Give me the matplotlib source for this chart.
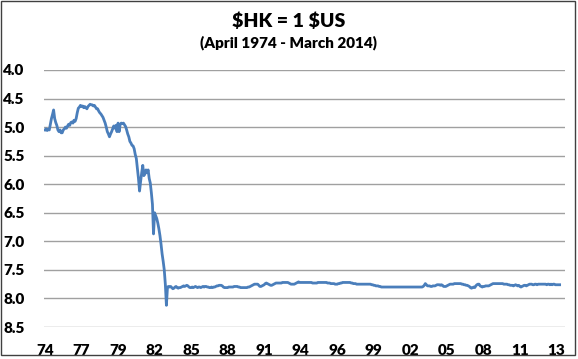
import numpy as np
import matplotlib
matplotlib.use('Agg')
import matplotlib.pyplot as plt
from matplotlib.patches import Rectangle

# monthly HKD per USD, April 1974 - March 2014
start_year, start_month = 1974, 4
rates = [
    # 1974 (Apr-Dec)
    5.05, 5.03, 5.06, 5.04, 5.05, 4.95, 4.85, 4.78, 4.70,
    # 1975
    4.85, 4.92, 4.97, 5.05, 5.08, 5.05, 5.10, 5.10, 5.05, 5.03, 5.00, 5.02,
    # 1976
    4.98, 4.95, 4.97, 4.92, 4.91, 4.93, 4.88, 4.90, 4.85, 4.75, 4.67, 4.65,
    # 1977
    4.62, 4.64, 4.63, 4.66, 4.64, 4.66, 4.68, 4.64, 4.62, 4.60, 4.61, 4.61,
    # 1978
    4.63, 4.62, 4.65, 4.68, 4.68, 4.72, 4.75, 4.77, 4.80, 4.83, 4.88, 4.93,
    # 1979
    5.00, 5.08, 5.12, 5.17, 5.12, 5.08, 5.03, 4.98, 5.02, 4.97, 5.08, 4.93,
    # 1980
    5.08, 4.95, 4.93, 4.94, 4.93, 4.96, 4.99, 5.05, 5.12, 5.17, 5.25, 5.28,
    # 1981
    5.32, 5.33, 5.38, 5.48, 5.55, 5.72, 5.90, 6.12, 5.95, 5.80, 5.67, 5.85,
    # 1982
    5.82, 5.75, 5.80, 5.75, 5.90, 5.98, 6.15, 6.35, 6.87, 6.50, 6.55, 6.60,
    # 1983
    6.68, 6.78, 6.90, 7.05, 7.22, 7.35, 7.50, 7.75, 8.12, 7.80, 7.79, 7.80,
    # 1984
    7.79, 7.81, 7.83, 7.82, 7.80, 7.79, 7.81, 7.82, 7.81, 7.81, 7.80, 7.79,
    # 1985
    7.78, 7.79, 7.78, 7.77, 7.78, 7.80, 7.81, 7.81, 7.80, 7.81, 7.80, 7.79,
    # 1986
    7.80, 7.81, 7.80, 7.80, 7.81, 7.80, 7.79, 7.80, 7.79, 7.79, 7.80, 7.80,
    # 1987
    7.81, 7.81, 7.80, 7.81, 7.80, 7.80, 7.79, 7.78, 7.78, 7.77, 7.77, 7.77,
    # 1988
    7.78, 7.80, 7.81, 7.81, 7.81, 7.81, 7.80, 7.80, 7.80, 7.80, 7.80, 7.79,
    # 1989
    7.79, 7.79, 7.79, 7.80, 7.80, 7.81, 7.81, 7.81, 7.81, 7.81, 7.81, 7.81,
    # 1990
    7.80, 7.80, 7.79, 7.78, 7.77, 7.76, 7.75, 7.75, 7.75, 7.75, 7.77, 7.79,
    # 1991
    7.79, 7.78, 7.77, 7.76, 7.74, 7.73, 7.74, 7.75, 7.76, 7.77, 7.77, 7.76,
    # 1992
    7.75, 7.74, 7.73, 7.73, 7.73, 7.73, 7.73, 7.73, 7.72, 7.72, 7.72, 7.72,
    # 1993
    7.72, 7.72, 7.73, 7.74, 7.75, 7.75, 7.75, 7.75, 7.74, 7.73, 7.72, 7.71,
    # 1994
    7.72, 7.72, 7.72, 7.72, 7.72, 7.72, 7.72, 7.72, 7.72, 7.72, 7.72, 7.72,
    # 1995
    7.73, 7.73, 7.73, 7.73, 7.73, 7.72, 7.72, 7.72, 7.72, 7.72, 7.72, 7.72,
    # 1996
    7.72, 7.72, 7.73, 7.73, 7.73, 7.74, 7.74, 7.74, 7.74, 7.75, 7.75, 7.75,
    # 1997
    7.74, 7.74, 7.73, 7.73, 7.72, 7.72, 7.72, 7.72, 7.72, 7.72, 7.72, 7.72,
    # 1998
    7.73, 7.73, 7.74, 7.74, 7.74, 7.75, 7.75, 7.75, 7.75, 7.75, 7.75, 7.75,
    # 1999
    7.75, 7.75, 7.75, 7.75, 7.75, 7.75, 7.75, 7.76, 7.76, 7.77, 7.77, 7.78,
    # 2000
    7.78, 7.78, 7.79, 7.79, 7.80, 7.80, 7.80, 7.80, 7.80, 7.80, 7.80, 7.80,
    # 2001
    7.80, 7.80, 7.80, 7.80, 7.80, 7.80, 7.80, 7.80, 7.80, 7.80, 7.80, 7.80,
    # 2002
    7.80, 7.80, 7.80, 7.80, 7.80, 7.80, 7.80, 7.80, 7.80, 7.80, 7.80, 7.80,
    # 2003
    7.80, 7.80, 7.80, 7.80, 7.80, 7.80, 7.80, 7.79, 7.77, 7.74, 7.76, 7.78,
    # 2004
    7.78, 7.78, 7.79, 7.79, 7.78, 7.78, 7.78, 7.77, 7.76, 7.76, 7.76, 7.77,
    # 2005
    7.76, 7.77, 7.79, 7.79, 7.79, 7.78, 7.77, 7.76, 7.75, 7.75, 7.75, 7.75,
    # 2006
    7.74, 7.74, 7.74, 7.74, 7.74, 7.74, 7.74, 7.75, 7.75, 7.76, 7.76, 7.77,
    # 2007
    7.77, 7.78, 7.79, 7.81, 7.82, 7.81, 7.80, 7.81, 7.78, 7.76, 7.75, 7.75,
    # 2008
    7.78, 7.79, 7.80, 7.79, 7.79, 7.78, 7.78, 7.78, 7.78, 7.77, 7.76, 7.75,
    # 2009
    7.74, 7.74, 7.74, 7.74, 7.74, 7.74, 7.74, 7.74, 7.74, 7.74, 7.75, 7.75,
    # 2010
    7.75, 7.75, 7.76, 7.76, 7.77, 7.77, 7.77, 7.78, 7.77, 7.76, 7.77, 7.78,
    # 2011
    7.77, 7.79, 7.80, 7.79, 7.78, 7.77, 7.77, 7.78, 7.77, 7.76, 7.75, 7.75,
    # 2012
    7.75, 7.76, 7.76, 7.75, 7.75, 7.76, 7.75, 7.75, 7.75, 7.75, 7.75, 7.75,
    # 2013
    7.75, 7.75, 7.76, 7.75, 7.75, 7.76, 7.75, 7.76, 7.75, 7.75, 7.76, 7.76,
    # 2014 (Jan-Mar)
    7.76, 7.76, 7.76,
]

# category axis: a label every 34 months, starting at April 1974
label_step = 34
x_labels = ['74', '77', '79', '82', '85', '88', '91', '94', '96', '99',
            '02', '05', '08', '11', '13']
y_ticks = [4.0, 4.5, 5.0, 5.5, 6.0, 6.5, 7.0, 7.5, 8.0, 8.5]

months = np.arange(len(rates))

plt.rcParams['font.family'] = ['Lato', 'DejaVu Sans']

fig = plt.figure(figsize=(5.78, 3.59), dpi=100)
ax = fig.add_axes([0.076, 0.0891, 0.9015, 0.716])

ax.plot(months, rates, color='#4a7ebb', lw=2.0, solid_joinstyle='round')

ax.set_xlim(-1, 484)
ax.set_ylim(8.5, 4.0)
ax.set_yticks(y_ticks)
ax.set_yticklabels(['%.1f' % v for v in y_ticks], fontweight='heavy')
ax.set_xticks(np.arange(len(x_labels)) * label_step)
ax.set_xticklabels(x_labels, fontweight='heavy')

ax.grid(axis='y', color='#a0a0a0', lw=1.0)
ax.set_axisbelow(True)
for s in ax.spines.values():
    s.set_visible(False)
ax.tick_params(axis='both', length=0, labelsize=11, colors='#000000')
ax.tick_params(axis='y', pad=14)
ax.tick_params(axis='x', pad=12)

fig.text(0.5, 0.942, r'\$HK = 1 \$US', ha='center', va='center',
         fontsize=14, fontweight='heavy')
fig.text(0.5, 0.88, '(April 1974 - March 2014)', ha='center', va='center',
         fontsize=11, fontweight='heavy')

fig.patches.append(Rectangle((0.002, 0.011), 0.993, 0.986,
                             transform=fig.transFigure, fill=False,
                             edgecolor='#404040', lw=1.0))

fig.savefig('out.png', dpi=100)
